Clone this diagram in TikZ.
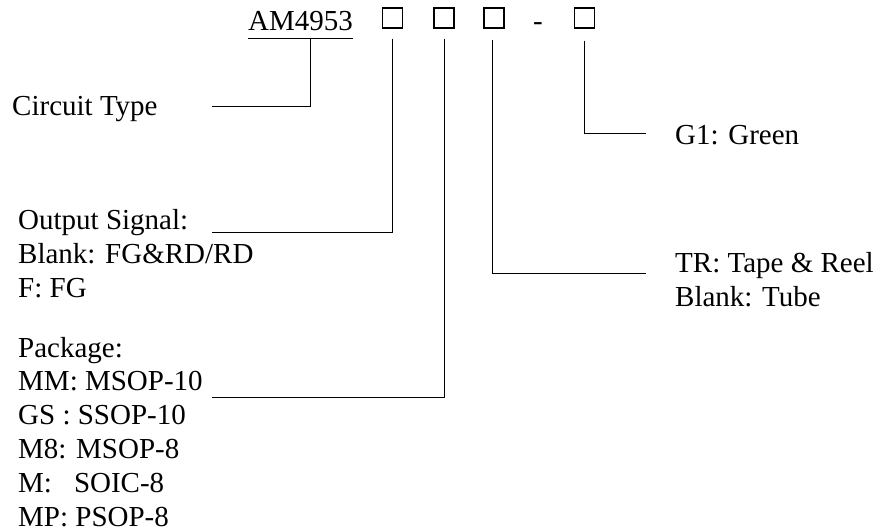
\documentclass[tikz,border=0pt]{standalone}
\usepackage{fontspec}
\setmainfont{Liberation Serif}
\usetikzlibrary{positioning}
\tikzset{
  code/.style={draw,line width=1.1pt,minimum size=20pt,inner sep=0pt},
  desc/.style={anchor=base west,inner sep=0pt,align=left},
  lead/.style={line width=0.9pt},
}

\begin{document}
\begin{tikzpicture}[x=1pt,y=-1pt,font=\fontsize{29}{33.8}\selectfont]
  \useasboundingbox (0,0) rectangle (882,531);
  % part number
  \node[desc] (am) at (248,30) {AM4953};
  \node[code] (b1) at (392.5,18) {};
  \node[code] (b2) at (444,18) {};
  \node[code] (b3) at (494,18) {};
  \node[desc] (dash) at (533,30) {-};
  \node[code] (b4) at (584.5,18) {};
  
  % descriptions (multi-line nodes sit on their last line)
  \node[desc] (ctype) at (12,115) {Circuit Type};
  \node[desc] (sig) at (18,297) {Output Signal:\\Blank: FG\&RD/RD\\F: FG};
  \node[desc] (pkg) at (18,526) {Package:\\MM: MSOP-10\\GS : SSOP-10\\M8: MSOP-8\\M:\hspace{22pt}SOIC-8\\MP: PSOP-8};
  \node[desc] (green) at (675,144) {G1: Green};
  \node[desc] (pack) at (675,306) {TR: Tape \& Reel\\Blank: Tube};
  
  % taps and free ends
  \coordinate (amtap) at (310,38);
  \coordinate (ctend) at (212,106);
  \coordinate (sigend) at (212,232);
  \coordinate (pkgend) at (212,397);
  \coordinate (b3tap) at (492,40);
  \coordinate (packend) at (646,273);
  \coordinate (greenend) at (646,133);
  
  % leads
  \draw[lead] ([yshift=-8pt]am.base west) -- ([yshift=-8pt]am.base east);
  \draw[lead] (amtap) |- (ctend);
  \draw[lead] ([yshift=-10pt]b1.south) |- (sigend);
  \draw[lead] ([yshift=-10pt]b2.south) |- (pkgend);
  \draw[lead] (b3tap) |- (packend);
  \draw[lead] ([yshift=-12pt]b4.south) |- (greenend);
  %\draw[step=10,very thin,opacity=0.2] (0,0) grid (882,531);
\end{tikzpicture}
\end{document}
